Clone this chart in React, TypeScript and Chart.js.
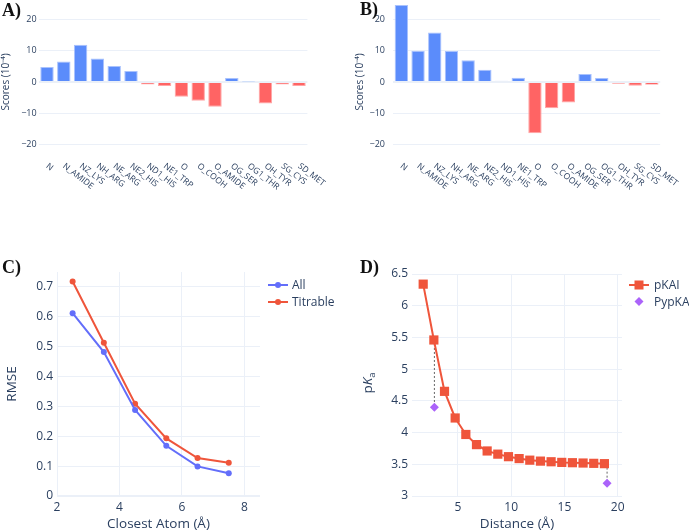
import React, { useEffect, useRef } from 'react';
import { Chart, registerables } from 'chart.js';
Chart.register(...registerables);

// ---------- Data ----------
const atomTypes = ['N', 'N_AMIDE', 'NZ_LYS', 'NH_ARG', 'NE_ARG', 'NE2_HIS', 'ND1_HIS', 'NE1_TRP', 'O', 'O_COOH', 'O_AMIDE', 'OG_SER', 'OG1_THR', 'OH_TYR', 'SG_CYS', 'SD_MET'];
const scoresA = [4.8, 6.6, 11.9, 7.5, 5.1, 3.5, -0.8, -1.3, -4.7, -6.0, -7.9, 1.3, 0.2, -6.9, -0.8, -1.3];
const scoresB = [24.7, 10.0, 15.9, 9.9, 7.0, 3.9, 0.4, 1.4, -16.4, -8.4, -6.6, 2.6, 1.3, -0.6, -1.2, -0.9];
const scoreTicks = [-20, -10, 0, 10, 20];

const closestAtom = [2.5, 3.5, 4.5, 5.5, 6.5, 7.5];
const rmseAll = [0.612, 0.482, 0.288, 0.168, 0.099, 0.076];
const rmseTitrable = [0.718, 0.513, 0.309, 0.193, 0.127, 0.111];
const closestTicks = [2, 4, 6, 8];
const rmseTicks = [0, 0.1, 0.2, 0.3, 0.4, 0.5, 0.6, 0.7];

const distance = [1.75, 2.75, 3.75, 4.75, 5.75, 6.75, 7.75, 8.75, 9.75, 10.75, 11.75, 12.75, 13.75, 14.75, 15.75, 16.75, 17.75, 18.75];
const pkaiValues = [6.34, 5.46, 4.65, 4.23, 3.97, 3.81, 3.71, 3.66, 3.62, 3.59, 3.565, 3.55, 3.54, 3.53, 3.525, 3.52, 3.515, 3.51];
const pypkaDistance = [2.8, 19.0];
const pypkaValues = [4.4, 3.2];
const distanceTicks = [5, 10, 15, 20];
const pkaTicks = [3, 3.5, 4, 4.5, 5, 5.5, 6, 6.5];

// ---------- Styles ----------
const TEXT = '#2a3f5f';
const GRID = '#EBF0F8';
const FONT = '"Open Sans"';
const BLUE_BAR = '#5b8cfb';
const RED_BAR = '#ff6464';
const BLUE_LINE = '#636EFA';
const RED_LINE = '#EF553B';
const PURPLE = '#AB63FA';

Chart.defaults.font.family = FONT;
Chart.defaults.color = TEXT;

const fmt = (v: any) => {
  const n = Number(v);
  const s = String(Math.round(n * 1000) / 1000);
  return n < 0 ? '\u2212' + s.slice(1) : s;
};

function fixY(width: number, ticks: number[]) {
  return {
    afterFit: (s: any) => {
      s.width = width;
      s.paddingTop = 0; s.paddingBottom = 0; s.paddingLeft = 0; s.paddingRight = 0;
    },
    afterBuildTicks: (s: any) => { s.ticks = ticks.map((v) => ({ value: v })); },
  };
}
function fixX(height: number, ticks?: number[]) {
  const o: any = {
    afterFit: (s: any) => {
      s.height = height;
      s.paddingTop = 0; s.paddingBottom = 0; s.paddingLeft = 0; s.paddingRight = 0;
    },
  };
  if (ticks) o.afterBuildTicks = (s: any) => { s.ticks = ticks.map((v) => ({ value: v })); };
  return o;
}

const angledLabels = {
  id: 'angledLabels',
  afterDraw(chart: any) {
    const { ctx, chartArea } = chart;
    const xs = chart.scales.x;
    ctx.save();
    ctx.font = `8.5px ${FONT}`;
    ctx.fillStyle = TEXT;
    ctx.textAlign = 'left';
    ctx.textBaseline = 'middle';
    (chart.data.labels as string[]).forEach((lab, i) => {
      const x = xs.getPixelForValue(i);
      ctx.save();
      ctx.translate(x, chartArea.bottom + 5);
      ctx.rotate((38 * Math.PI) / 180);
      ctx.fillText(lab, 0, 0);
      ctx.restore();
    });
    ctx.restore();
  },
};

function barConfig(values: number[], yWidth: number, padRight: number, tickPad: number, titlePad: number): any {
  return {
    type: 'bar',
    data: {
      labels: atomTypes,
      datasets: [{
        data: values,
        backgroundColor: values.map((v) => (v >= 0 ? BLUE_BAR : RED_BAR)),
        borderColor: values.map((v) => (v >= 0 ? '#a9c2fd' : '#ffa6a6')),
        borderWidth: 1,
        borderSkipped: 'start',
        barPercentage: 0.8,
        categoryPercentage: 1,
      }],
    },
    options: {
      responsive: false,
      animation: false,
      layout: { padding: { top: 4, left: 0, right: padRight, bottom: 0 } },
      plugins: { legend: { display: false }, tooltip: { enabled: false } },
      scales: {
        x: {
          ...fixX(106),
          grid: { display: false },
          border: { display: false },
          ticks: { display: false },
        },
        y: {
          ...fixY(yWidth, scoreTicks),
          min: -25, max: 25,
          grid: { color: GRID, lineWidth: (c: any) => (c.tick && c.tick.value === 0 ? 2 : 1), drawTicks: false },
          border: { display: false },
          ticks: { font: { size: 9 }, color: TEXT, padding: tickPad, callback: fmt },
          title: { display: true, text: 'Scores (10\u207B\u2074)', font: { size: 10 }, color: TEXT, padding: { top: titlePad, bottom: 0 } },
        },
      },
    },
    plugins: [angledLabels],
  };
}

const legendC = {
  id: 'legendC',
  afterDraw(chart: any) {
    const { ctx } = chart;
    const rows = [
      { label: 'All', color: BLUE_LINE, y: 23 },
      { label: 'Titrable', color: RED_LINE, y: 40 },
    ];
    ctx.save();
    ctx.font = `12px ${FONT}`;
    ctx.textBaseline = 'middle';
    ctx.textAlign = 'left';
    rows.forEach((r) => {
      ctx.strokeStyle = r.color;
      ctx.lineWidth = 2;
      ctx.beginPath();
      ctx.moveTo(268, r.y);
      ctx.lineTo(288, r.y);
      ctx.stroke();
      ctx.fillStyle = r.color;
      ctx.beginPath();
      ctx.arc(278, r.y, 3, 0, Math.PI * 2);
      ctx.fill();
      ctx.fillStyle = TEXT;
      ctx.fillText(r.label, 292, r.y + 0.5);
    });
    ctx.restore();
  },
};

const legendD = {
  id: 'legendD',
  afterDraw(chart: any) {
    const { ctx, chartArea } = chart;
    ctx.save();
    ctx.font = `12px ${FONT}`;
    ctx.textBaseline = 'middle';
    ctx.textAlign = 'left';
    // pKAI
    ctx.strokeStyle = RED_LINE;
    ctx.lineWidth = 2;
    ctx.beginPath();
    ctx.moveTo(284, 23);
    ctx.lineTo(304, 23);
    ctx.stroke();
    ctx.fillStyle = RED_LINE;
    ctx.fillRect(289.5, 18.5, 9, 9);
    ctx.fillStyle = TEXT;
    ctx.fillText('pKAI', 309, 23.5);
    // PypKA
    ctx.fillStyle = PURPLE;
    ctx.beginPath();
    ctx.moveTo(294, 35);
    ctx.lineTo(298.5, 39.5);
    ctx.lineTo(294, 44);
    ctx.lineTo(289.5, 39.5);
    ctx.closePath();
    ctx.fill();
    ctx.fillStyle = TEXT;
    ctx.fillText('PypKA', 309, 40.5);
    // y-axis title p K_a
    const cx = 23;
    const cy = (chartArea.top + chartArea.bottom) / 2 - 2;
    ctx.translate(cx, cy);
    ctx.rotate(-Math.PI / 2);
    ctx.textBaseline = 'middle';
    ctx.font = `13.5px ${FONT}`;
    const wp = ctx.measureText('p').width;
    ctx.font = `italic 13.5px ${FONT}`;
    const wk = ctx.measureText('K').width;
    ctx.font = `9.5px ${FONT}`;
    const wa = ctx.measureText('a').width;
    let x = -(wp + wk + wa) / 2;
    ctx.fillStyle = TEXT;
    ctx.font = `13.5px ${FONT}`;
    ctx.fillText('p', x, 0);
    x += wp;
    ctx.font = `italic 13.5px ${FONT}`;
    ctx.fillText('K', x, 0);
    x += wk;
    ctx.font = `9.5px ${FONT}`;
    ctx.fillText('a', x, 4);
    ctx.restore();
  },
};

function configC(): any {
  return {
    type: 'line',
    data: {
      datasets: [
        {
          label: 'All',
          data: closestAtom.map((x, i) => ({ x, y: rmseAll[i] })),
          borderColor: BLUE_LINE, backgroundColor: BLUE_LINE,
          borderWidth: 2, pointRadius: 3, pointBorderWidth: 0, tension: 0,
        },
        {
          label: 'Titrable',
          data: closestAtom.map((x, i) => ({ x, y: rmseTitrable[i] })),
          borderColor: RED_LINE, backgroundColor: RED_LINE,
          borderWidth: 2, pointRadius: 3, pointBorderWidth: 0, tension: 0,
        },
      ],
    },
    options: {
      responsive: false,
      animation: false,
      layout: { padding: { top: 10, left: 0, right: 85, bottom: 0 } },
      plugins: { legend: { display: false }, tooltip: { enabled: false } },
      scales: {
        x: {
          type: 'linear',
          ...fixX(36, closestTicks),
          min: 2, max: 8.5,
          grid: { color: GRID, drawTicks: false },
          border: { display: false },
          ticks: { font: { size: 12 }, color: TEXT, padding: 4, callback: fmt },
          title: { display: true, text: 'Closest Atom (\u00C5)', font: { size: 13.5 }, color: TEXT, padding: { top: 0, bottom: 0 } },
        },
        y: {
          ...fixY(57, rmseTicks),
          min: 0, max: 0.75,
          grid: { color: GRID, lineWidth: (c: any) => (c.tick && c.tick.value === 0 ? 2 : 1), drawTicks: false },
          border: { display: false },
          ticks: { font: { size: 12 }, color: TEXT, padding: 4, callback: fmt },
          title: { display: true, text: 'RMSE', font: { size: 13.5 }, color: TEXT, padding: { top: 4, bottom: 0 } },
        },
      },
    },
    plugins: [legendC],
  };
}

function nearestPkai(x: number) {
  let best = 0;
  distance.forEach((d, i) => { if (Math.abs(d - x) < Math.abs(distance[best] - x)) best = i; });
  return pkaiValues[best];
}

function configD(): any {
  const guides = pypkaDistance.map((x, i) => ({
    data: [{ x, y: nearestPkai(x) }, { x, y: pypkaValues[i] }],
    borderColor: '#666',
    borderWidth: 1,
    borderDash: [2, 2],
    pointRadius: 0,
    showLine: true,
    order: 3,
  }));
  return {
    type: 'line',
    data: {
      datasets: [
        ...guides,
        {
          label: 'pKAI',
          data: distance.map((x, i) => ({ x, y: pkaiValues[i] })),
          borderColor: RED_LINE, backgroundColor: RED_LINE,
          borderWidth: 2, pointStyle: 'rect', pointRadius: 6.5, pointBorderWidth: 0, tension: 0,
          order: 2,
        },
        {
          label: 'PypKA',
          data: pypkaDistance.map((x, i) => ({ x, y: pypkaValues[i] })),
          borderColor: PURPLE, backgroundColor: PURPLE,
          showLine: false, pointStyle: 'rectRot', pointRadius: 4.5, pointBorderWidth: 0,
          order: 1,
        },
      ],
    },
    options: {
      responsive: false,
      animation: false,
      layout: { padding: { top: 12, left: 0, right: 67, bottom: 0 } },
      plugins: { legend: { display: false }, tooltip: { enabled: false } },
      scales: {
        x: {
          type: 'linear',
          ...fixX(36, distanceTicks),
          min: 0.7, max: 20.4,
          grid: { color: GRID, drawTicks: false },
          border: { display: false },
          ticks: { font: { size: 12 }, color: TEXT, padding: 4, callback: fmt },
          title: { display: true, text: 'Distance (\u00C5)', font: { size: 13.5 }, color: TEXT, padding: { top: 0, bottom: 0 } },
        },
        y: {
          ...fixY(67, pkaTicks),
          min: 3, max: 6.5,
          grid: { color: GRID, drawTicks: false },
          border: { display: false },
          ticks: { font: { size: 12 }, color: TEXT, padding: 4, callback: fmt },
          title: { display: false },
        },
      },
    },
    plugins: [legendD],
  };
}

function ChartCanvas({ make, left, top, width, height }: { make: () => any; left: number; top: number; width: number; height: number }) {
  const ref = useRef<HTMLCanvasElement | null>(null);
  useEffect(() => {
    if (!ref.current) return;
    const chart = new Chart(ref.current, make());
    return () => chart.destroy();
  }, []);
  return <canvas ref={ref} width={width} height={height} style={{ position: 'absolute', left, top, width, height }} />;
}

const labelStyle: React.CSSProperties = {
  position: 'absolute',
  fontFamily: '"Liberation Serif", serif',
  fontWeight: 'bold',
  fontSize: 18,
  lineHeight: 1,
  color: '#111',
  zIndex: 2,
};

export default function App() {
  return (
    <div style={{ position: 'absolute', left: 0, top: 0, width: 689, height: 532, background: '#fff', overflow: 'hidden' }}>
      <ChartCanvas make={() => barConfig(scoresA, 38.6, 37.6, 2, 0)} left={0} top={0} width={345} height={266} />
      <ChartCanvas make={() => barConfig(scoresB, 48, 28.8, 8, 9)} left={345} top={0} width={344} height={266} />
      <ChartCanvas make={configC} left={0} top={262} width={345} height={270} />
      <ChartCanvas make={configD} left={345} top={262} width={344} height={270} />
      <div style={{ ...labelStyle, left: 2, top: 1 }}>A)</div>
      <div style={{ ...labelStyle, left: 360, top: 0 }}>B)</div>
      <div style={{ ...labelStyle, left: 2, top: 258 }}>C)</div>
      <div style={{ ...labelStyle, left: 360, top: 258 }}>D)</div>
    </div>
  );
}
